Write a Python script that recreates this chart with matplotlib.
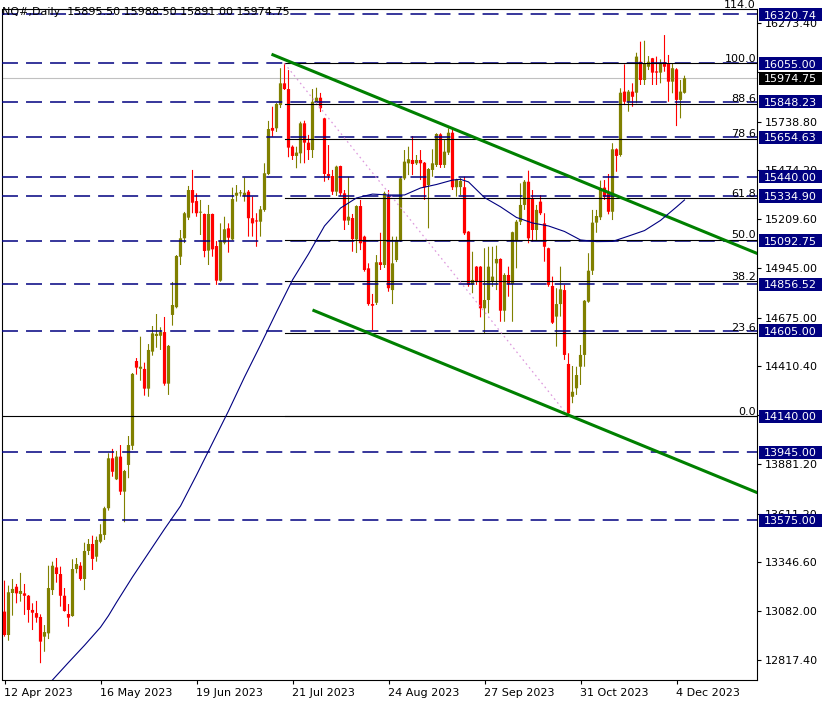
import matplotlib
matplotlib.use("Agg")
import matplotlib.pyplot as plt
from matplotlib.patches import Rectangle
import numpy as np

plt.rcParams['font.family'] = ['DejaVu Sans']
plt.rcParams['lines.scale_dashes'] = False

# ---------------- data ----------------
opens = [
    13080, 12953, 13181, 13215, 13176, 13179, 13166, 13089, 13072, 13051,
    12944, 12962, 13197, 13320, 13284, 13166, 13067, 13056, 13311, 13329,
    13257, 13409, 13447, 13378, 13459, 13496, 13641, 13912, 13798, 13921,
    13731, 13876, 13980, 14440, 14398, 14397, 14290, 14491, 14576, 14577,
    14597, 14317, 14690, 14732, 15006, 15106, 15218, 15368, 15308, 15245,
    15238, 15039, 15238, 15064, 14876, 15082, 15160, 15100, 15337, 15350,
    15337, 15359, 15215, 15203, 15196, 15260, 15455, 15705, 15703, 15829,
    15947, 15916, 15603, 15553, 15567, 15730, 15625, 15585, 15847, 15869,
    15757, 15455, 15444, 15359, 15498, 15350, 15202, 15216, 15100, 15281,
    15115, 14943, 14749, 14756, 14976, 14961, 15332, 14825, 14988, 15097,
    15431, 15513, 15531, 15513, 15531, 15516, 15395, 15477, 15504, 15670,
    15504, 15571, 15679, 15383, 15384, 15383, 15142, 14856, 14952, 14952,
    14726, 14771, 14870, 14970, 14994, 14713, 14907, 14858, 15097, 15196,
    15287, 15413, 15323, 15151, 15305, 15187, 15052, 14847, 14681, 14749,
    14825, 14424, 14246, 14292, 14409, 14473, 14762, 14930, 15191, 15220,
    15381, 15353, 15250, 15589, 15558, 15902, 15847, 15902, 15896, 16064,
    15965, 16037, 16083, 16012, 16005, 16061, 16056, 15956, 16023, 15857,
    15895.5]
highs = [
    13248, 13221, 13257, 13230, 13290, 13230, 13170, 13125, 13138, 13065,
    13007, 13329, 13351, 13371, 13324, 13208, 13121, 13364, 13371, 13348,
    13454, 13474, 13492, 13487, 13554, 13649, 13939, 13963, 13952, 13984,
    13849, 14033, 14375, 14456, 14572, 14431, 14532, 14630, 14695, 14623,
    14679, 14527, 14869, 15015, 15151, 15249, 15390, 15477, 15350, 15314,
    15240, 15287, 15240, 15091, 15187, 15223, 15187, 15381, 15395, 15368,
    15435, 15368, 15332, 15242, 15281, 15513, 15743, 15820, 15840, 16029,
    16055, 16019, 15610, 15603, 15739, 15744, 15667, 15916, 15923, 15895,
    15760, 15612, 15477, 15500, 15500, 15368, 15440, 15238, 15285, 15314,
    15120, 14970, 14804, 15015, 15136, 15359, 15368, 15115, 15115, 15436,
    15585, 15603, 15661, 15558, 15585, 15520, 15487, 15589, 15676, 15676,
    15639, 15703, 15703, 15429, 15433, 15440, 15145, 15033, 14955, 14955,
    15052, 15060, 15060, 15066, 14997, 14916, 14952, 15142, 15205, 15404,
    15422, 15473, 15368, 15287, 15341, 15242, 15055, 14898, 14835, 14952,
    14853, 14482, 14413, 14409, 14527, 14771, 15025, 15260, 15260, 15419,
    15422, 15455, 15622, 15594, 15920, 16050, 15911, 15947, 16113, 16173,
    16178, 16095, 16085, 16092, 16077, 16209, 16101, 16056, 16029, 15965,
    15988.5]
lows = [
    12944, 12922, 13058, 13125, 13134, 13062, 13020, 12980, 13020, 12800,
    12862, 12931, 13170, 13237, 13107, 13080, 12998, 13052, 13288, 13248,
    13197, 13387, 13306, 13351, 13451, 13469, 13628, 13812, 13794, 13713,
    13565, 13804, 13957, 14366, 14333, 14252, 14246, 14469, 14512, 14500,
    14306, 14256, 14632, 14726, 14961, 15080, 15205, 15242, 15223, 15124,
    15003, 14961, 15006, 14853, 14870, 15073, 15028, 15095, 15305, 15332,
    15305, 15115, 15115, 15060, 15115, 15250, 15449, 15657, 15683, 15813,
    15911, 15546, 15531, 15486, 15513, 15513, 15531, 15542, 15829, 15791,
    15413, 15422, 15341, 15336, 15336, 15151, 15178, 15033, 15026, 15042,
    14925, 14740, 14608, 14744, 14934, 14945, 14816, 14749, 14977, 15086,
    15422, 15449, 15449, 15504, 15422, 15314, 15160, 15440, 15493, 15488,
    15488, 15558, 15368, 15332, 15341, 15124, 14843, 14808, 14853, 14677,
    14590, 14699, 14843, 14825, 14653, 14653, 14789, 14653, 14943, 15178,
    15260, 15079, 15088, 15097, 15232, 14979, 14843, 14641, 14518, 14681,
    14446, 14140, 14211, 14256, 14310, 14409, 14756, 14907, 15136, 15205,
    15314, 15236, 15205, 15467, 15549, 15829, 15793, 15820, 15839, 15938,
    15938, 16019, 15938, 15938, 15947, 16010, 15847, 15893, 15715, 15757,
    15891]
closes = [
    12953, 13185, 13203, 13179, 13192, 13166, 13089, 13074, 13047, 12917,
    12969, 13208, 13329, 13284, 13166, 13083, 13047, 13311, 13338, 13257,
    13409, 13447, 13366, 13469, 13500, 13641, 13912, 13839, 13921, 13731,
    13843, 13984, 14370, 14404, 14409, 14290, 14500, 14590, 14587, 14597,
    14317, 14522, 14744, 15010, 15106, 15242, 15368, 15299, 15242, 15250,
    15037, 15238, 15046, 14876, 15093, 15155, 15109, 15319, 15353, 15350,
    15353, 15215, 15187, 15197, 15263, 15459, 15699, 15690, 15835, 15947,
    15916, 15598, 15553, 15571, 15730, 15625, 15585, 15847, 15869, 15812,
    15455, 15444, 15359, 15495, 15350, 15202, 15223, 15102, 15281, 15079,
    14934, 14749, 14740, 14976, 14961, 15350, 14835, 14970, 15097, 15431,
    15522, 15535, 15509, 15531, 15513, 15383, 15482, 15513, 15672, 15504,
    15576, 15679, 15383, 15426, 15417, 15133, 14853, 14880, 14870, 14726,
    14771, 14952, 14898, 14994, 14713, 14907, 14858, 15139, 15196, 15287,
    15413, 15106, 15151, 15260, 15242, 15060, 14853, 14648, 14749, 14829,
    14473, 14156, 14273, 14364, 14473, 14767, 14930, 15191, 15227, 15372,
    15332, 15250, 15589, 15553, 15896, 15847, 15902, 15874, 16092, 15965,
    16056, 16064, 16005, 16005, 16056, 16037, 15956, 16029, 15857, 15902,
    15974.75]

date_ticks = [0, 24, 48, 72, 96, 120, 144, 168]
date_labels = ["12 Apr 2023", "16 May 2023", "19 Jun 2023", "21 Jul 2023",
               "24 Aug 2023", "27 Sep 2023", "31 Oct 2023", "4 Dec 2023"]

price_ticks = [16273.40, 16008.80, 15738.80, 15474.20, 15209.60, 14945.00,
               14675.00, 14410.40, 14145.80, 13881.20, 13611.20, 13346.60,
               13082.00, 12817.40]
# labels fully covered by the price boxes in the reference are not shown
price_tick_hidden = [16008.80, 14145.80]

level_prices = [16320.74, 16055.00, 15848.23, 15654.63, 15440.00, 15334.90,
                15092.75, 14856.52, 14605.00, 14140.00, 13945.00, 13575.00]
level_dashed = [True, True, True, True, True, True, True, True, True,
                False, True, True]

bid_price = 15974.75

fib_high_bar, fib_high = 70, 16055.00
fib_low_bar, fib_low = 141, 14140.00
fib_levels = [0.0, 23.6, 38.2, 50.0, 61.8, 78.6, 88.6, 100.0]

upper_channel_bars = [66.75, 188.25]
upper_channel_prices = [16105, 15023]
lower_channel_bars = [77, 188.25]
lower_channel_prices = [14717, 13725]

ma_bars = [12, 16, 20, 24, 26, 28, 32, 36, 40, 44, 48, 52, 56, 60, 64, 68,
           72, 76, 80, 84, 88, 92, 96, 100, 104, 108, 112, 114, 116, 120,
           124, 128, 132, 136, 140, 144, 148, 152, 156, 160, 164, 168, 170]
ma_values = [12709, 12804, 12897, 12995, 13058, 13130, 13268, 13398, 13528,
             13653, 13821, 13995, 14169, 14353, 14527, 14706, 14880, 15021,
             15173, 15270, 15325, 15346, 15341, 15341, 15379, 15398, 15422,
             15426, 15412, 15327, 15277, 15219, 15189, 15173, 15143, 15097,
             15088, 15089, 15118, 15148, 15203, 15276, 15314]

title = "NQ#,Daily  15895.50 15988.50 15891.00 15974.75"

# ---------------- layout ----------------
W, H = 828, 703
fig = plt.figure(figsize=(W / 100, H / 100), dpi=100)
fig.patch.set_facecolor('white')
L, R, T, B = 2.5, 757.0, 9.0, 680.0
ax = fig.add_axes([L / W, 1 - B / H, (R - L) / W, (B - T) / H])
bar_px = 4.0
x0 = -0.5
x1 = x0 + (R - L) / bar_px
ax.set_xlim(x0, x1)
ax.set_ylim(12708.8, 16350.4)
ax.set_facecolor('white')
for s in ax.spines.values():
    s.set_linewidth(0.8)
    s.set_color('black')

NAVY = '#000080'
OLIVE = '#808000'
RED = '#ff0000'

# bid line (behind candles)
ax.axhline(bid_price, color='#c0c0c0', lw=0.8, zorder=1)

# candles
o = np.array(opens, float)
h = np.array(highs, float)
l = np.array(lows, float)
c = np.array(closes, float)
x = np.arange(len(o))
cols = np.where(c >= o, OLIVE, RED)
ax.vlines(x, l, h, colors=cols, lw=0.8, snap=False, zorder=3)
px_price = (16350.4 - 12708.8) / (B - T)
body_h = np.maximum(np.abs(c - o), px_price)
bars = ax.bar(x, body_h, 0.8, bottom=np.minimum(o, c), color=cols,
              linewidth=0, zorder=3.1)
for b in bars:
    b.set_snap(False)

# horizontal levels
for p, d in zip(level_prices, level_dashed):
    if d:
        ax.axhline(p, color=NAVY, lw=1.1, ls=(0, (11.5, 5.8)), zorder=4)
    else:
        ax.axhline(p, color='black', lw=0.8, zorder=4)

# fibonacci lines
fib_prices = [fib_low + lv / 100.0 * (fib_high - fib_low) for lv in fib_levels]
for p in fib_prices:
    ax.plot([fib_high_bar, x1], [p, p], color='black', lw=0.8, zorder=4.5)
ax.plot([fib_high_bar, fib_low_bar], [fib_high, fib_low], color='#dd99dd',
        lw=0.9, ls=(0, (1.2, 2.4)), zorder=4.6)

# channel + MA
ax.plot(upper_channel_bars, upper_channel_prices, color='#008000', lw=2.2,
        zorder=5, solid_capstyle='butt')
ax.plot(lower_channel_bars, lower_channel_prices, color='#008000', lw=2.2,
        zorder=5, solid_capstyle='butt')
ax.plot(ma_bars, ma_values, color=NAVY, lw=0.8, zorder=5)

# ticks
ax.yaxis.tick_right()
ax.set_yticks(price_ticks)
ax.set_yticklabels(["" if v in price_tick_hidden else f"{v:.2f}"
                    for v in price_ticks])
ax.tick_params(axis='y', direction='out', length=3, width=0.8, pad=2.8,
               labelsize=8, colors='black')
ax.set_xticks(date_ticks)
ax.set_xticklabels(date_labels)
ax.tick_params(axis='x', direction='out', length=3, width=0.8, pad=2.5,
               labelsize=8, colors='black')
for lab in ax.get_xticklabels():
    lab.set_horizontalalignment('left')

# ---------------- labels in pixel space ----------------
def disp_y(price):
    return ax.transData.transform((0, price))[1]

for lv, p in zip(fib_levels, fib_prices):
    yd = disp_y(p)
    fig.text(756 / W, (yd + 1.6) / H, f"{lv:.1f}", ha='right', va='baseline',
             fontsize=8, color='black', zorder=8)
fig.text(756 / W, 1 - 7.5 / H, "114.0", ha='right', va='baseline',
         fontsize=8, color='black', zorder=8)

def price_box(price, fc):
    yd = disp_y(price)
    fig.add_artist(Rectangle((759 / W, (yd - 6.7) / H), 63 / W, 13.4 / H,
                             transform=fig.transFigure, facecolor=fc,
                             edgecolor='none', zorder=10))
    fig.text(763.5 / W, (yd - 4.1) / H, f"{price:.2f}", ha='left',
             va='baseline', fontsize=8, color='white', zorder=11)

for p in level_prices:
    price_box(p, NAVY)
price_box(bid_price, 'black')

fig.text(2 / W, 1 - 15 / H, title, ha='left', va='baseline', fontsize=8,
         color='black', zorder=11)

fig.savefig('out.png', dpi=100, facecolor='white')
